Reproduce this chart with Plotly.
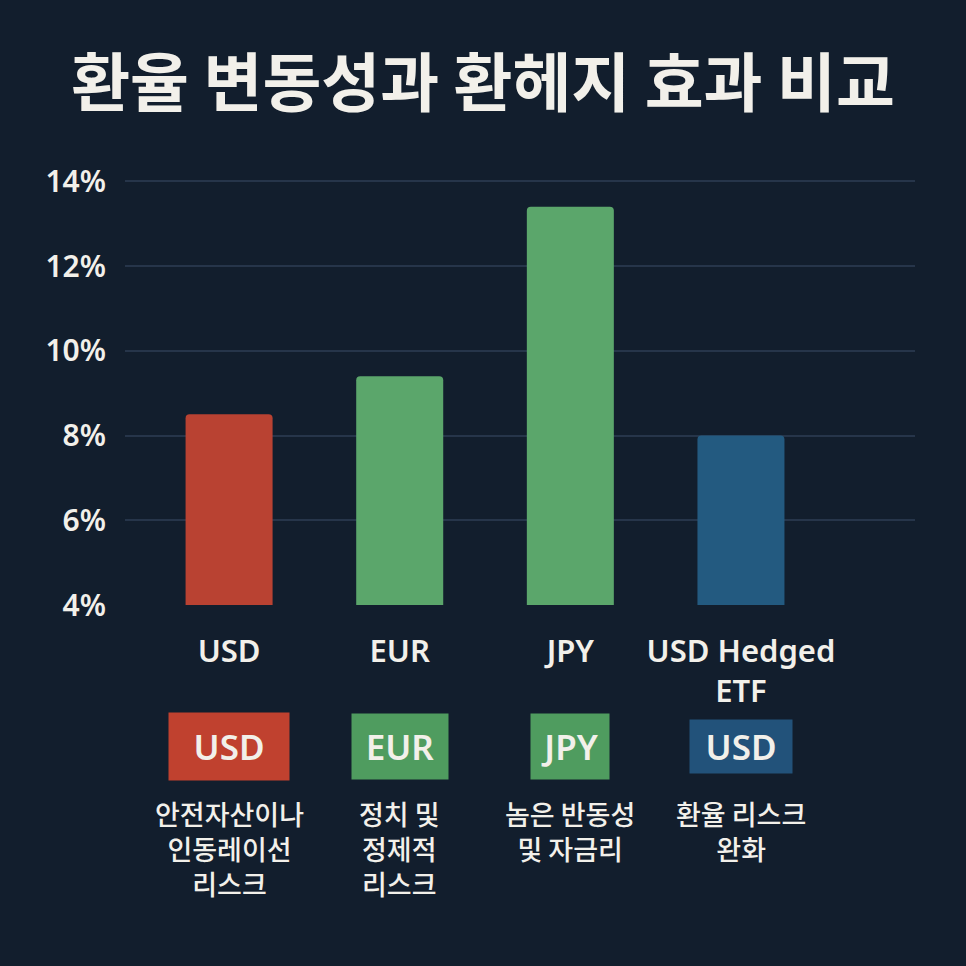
import plotly.graph_objects as go

# ---- data ----
categories = ["USD", "EUR", "JPY", "USD Hedged<br>ETF"]
volatility = [8.5, 9.4, 13.4, 8.0]
badge_labels = ["USD", "EUR", "JPY", "USD"]
descriptions = [
    "안전자산이나<br>인동레이선<br>리스크",
    "정치 및<br>정제적<br>리스크",
    "놈은 반동성<br>및 자금리",
    "환율 리스크<br>완화",
]
y_ticks = [4, 6, 8, 10, 12, 14]
y_tick_labels = ["4%", "6%", "8%", "10%", "12%", "14%"]
title_text = "환율 변동성과 환헤지 효과 비교"

# ---- style ----
bg = "#121e2d"
bar_colors = ["#b94232", "#5ba66b", "#5ba66b", "#235a80"]
badge_colors = ["#c0412f", "#4f9c5f", "#4f9c5f", "#22527a"]
badge_sizes = [(100, 47), (76, 45), (58, 45), (82, 33)]
font_family = "Noto Sans, Noto Sans CJK KR, sans-serif"
cjk_family = "Noto Sans CJK KR, Noto Sans, sans-serif"

fig = go.Figure()
fig.add_trace(go.Bar(
    x=categories,
    y=volatility,
    marker=dict(color=bar_colors, line=dict(width=0)),
    width=0.51,
    hoverinfo="skip",
))

# badges
for cat, lab, col, (w, h) in zip(categories, badge_labels, badge_colors, badge_sizes):
    fig.add_annotation(
        x=cat, xref="x", y=-0.334, yref="paper",
        text=lab, showarrow=False,
        font=dict(family=font_family, size=35, color="#f2f0ea", weight=600),
        bgcolor=col, borderpad=10, width=w, height=h,
        xanchor="center", yanchor="middle",
    )

# descriptions
for cat, desc in zip(categories, descriptions):
    fig.add_annotation(
        x=cat, xref="x", y=-0.44, yref="paper",
        text=desc, showarrow=False,
        font=dict(family=cjk_family, size=27, color="#f2f0ea", weight=500),
        xanchor="center", yanchor="top", align="center",
    )

fig.update_layout(
    width=966, height=966,
    paper_bgcolor=bg, plot_bgcolor=bg,
    margin=dict(l=125, r=51, t=180, b=361),
    showlegend=False,
    barcornerradius=4,
    title=dict(
        text=title_text,
        x=0.5, xanchor="center", y=0.913, yanchor="middle",
        font=dict(family=cjk_family, size=64, color="#f2f0ea", weight=700),
    ),
    xaxis=dict(
        type="category",
        range=[-0.61, 4.02],
        showgrid=False, zeroline=False, showline=False,
        ticks="", ticklabelstandoff=25,
        tickfont=dict(family=font_family, size=31, color="#f2f0ea", weight=600),
    ),
    yaxis=dict(
        range=[4, 14.03],
        tickvals=y_ticks, ticktext=y_tick_labels,
        showgrid=True, gridcolor="#26354a", gridwidth=1.5,
        zeroline=False, showline=False, ticks="",
        ticklabelstandoff=18,
        tickfont=dict(family=font_family, size=30, color="#f2f0ea", weight=600),
    ),
)

fig.write_html("out.html")
